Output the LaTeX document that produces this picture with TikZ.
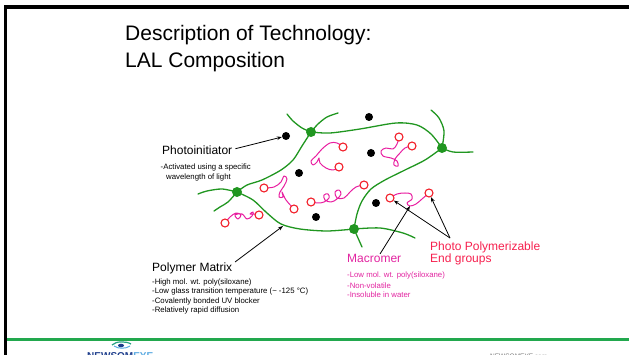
\documentclass[tikz,border=0pt]{standalone}
\usepackage{fontspec}
\setmainfont{Liberation Sans}
\usetikzlibrary{arrows.meta}
\definecolor{netgreen}{RGB}{32,150,32}
\definecolor{chainpink}{RGB}{232,30,160}
\definecolor{endred}{RGB}{242,30,40}
\definecolor{macrotext}{RGB}{226,36,160}
\definecolor{phototext}{RGB}{246,32,78}
\definecolor{rulegreen}{RGB}{34,168,78}
\definecolor{logodark}{RGB}{30,62,140}
\definecolor{logolight}{RGB}{90,170,225}
\definecolor{logoteal}{RGB}{40,160,130}
\tikzset{
  strand/.style={draw=netgreen, line width=1.3pt, line cap=round},
  crosslink/.style={circle, fill=netgreen, inner sep=0pt, minimum size=10pt},
  initiator/.style={circle, fill=black, inner sep=0pt, minimum size=8pt},
  chain/.style={draw=chainpink, line width=1pt, line cap=round, line join=round},
  endgroup/.style={circle, draw=endred, line width=1.1pt, fill=white, inner sep=0pt, minimum size=8pt},
  pointer/.style={draw=black, line width=0.8pt, -{Stealth[length=5pt,width=3.6pt]}},
  lbl/.style={anchor=base west, inner sep=0pt},
  big/.style={font=\fontsize{12}{14}\selectfont},
  small/.style={font=\fontsize{7.8}{9.5}\selectfont},
}
\begin{document}
\begin{tikzpicture}[x=1pt,y=-1pt]
\useasboundingbox (0,0) rectangle (629,355);
\clip (0,0) rectangle (629,355);

% slide frame and footer rule
\fill[black] (3.5,5) rectangle (629,9);
\fill[black] (3.5,5) rectangle (6.8,355);
\fill[rulegreen] (6.8,337.8) rectangle (629,340.8);

% title
\node[lbl, font=\fontsize{21}{25}\selectfont] (t1) at (125,41) {Description of Technology:};
\node[lbl, font=\fontsize{21}{25}\selectfont] (t2) at (125,67.5) {LAL Composition};

% polymer network: crosslink points
\coordinate (N1) at (311,132);
\coordinate (N2) at (442,148);
\coordinate (N3) at (237,192);
\coordinate (N4) at (354,229);

\draw[strand] plot[smooth] coordinates {(287,114) (293,121) (302,128) (311,132)};
\draw[strand] plot[smooth] coordinates {(311,132) (318,124) (327,117) (338,113)};
\draw[strand] plot[smooth] coordinates {(311,132) (330,133) (360,129) (396,123) (417,125) (431,134) (442,148)};
\draw[strand] plot[smooth] coordinates {(442,148) (444,131) (439,118) (431,110)};
\draw[strand] plot[smooth] coordinates {(442,148) (453,152) (473,152)};
\draw[strand] plot[smooth] coordinates {(442,148) (425,160) (405,170) (385,180) (371,189) (362,201) (357,214) (354,229)};
\draw[strand] plot[smooth] coordinates {(311,132) (302,146) (293,160) (281,170) (262,180) (247,185) (237,192)};
\draw[strand] plot[smooth] coordinates {(237,192) (222,189) (207,191) (198,194)};
\draw[strand] plot[smooth] coordinates {(237,192) (228,202) (220,207) (214,211)};
\draw[strand] plot[smooth] coordinates {(237,192) (253,200) (267,213) (281,224) (300,229) (327,231) (354,229)};
\draw[strand] plot[smooth] coordinates {(354,229) (380,228) (403,233) (415,238)};
\draw[strand] plot[smooth] coordinates {(354,229) (358,238) (362,247)};

\node[crosslink] (c1) at (N1) {};
\node[crosslink] (c2) at (N2) {};
\node[crosslink] (c3) at (N3) {};
\node[crosslink] (c4) at (N4) {};

% photoinitiator molecules
\node[initiator] (d1) at (286,136) {};
\node[initiator] (d2) at (369,117) {};
\node[initiator] (d3) at (371,153) {};
\node[initiator] (d4) at (299,173) {};
\node[initiator] (d5) at (376,203) {};
\node[initiator] (d6) at (316,217) {};

% macromer chains with photopolymerizable end groups
\draw[chain] plot[smooth, tension=0.6] coordinates {(343,147) (337,143) (330,143) (322,149) (316,156) (311,161) (313,165) (317,162) (319,158) (320,163) (326,168) (333,170) (339,167)};
\node[endgroup] (e1a) at (343,147) {};
\node[endgroup] (e1b) at (339,167) {};

\draw[chain] plot[smooth, tension=0.6] coordinates {(399,137) (397,144) (393,149) (386,148) (381,151) (383,156) (391,158) (397,161) (398,166) (394,165) (395,159) (400,153) (405,148) (412,146)};
\node[endgroup] (e2a) at (399,137) {};
\node[endgroup] (e2b) at (412,146) {};

\draw[chain] plot[smooth, tension=0.6] coordinates {(264,188) (274,187) (281,182) (284,176) (287,179) (284,186) (280,192) (279,197) (283,197) (282,192) (286,200) (294,209)};
\node[endgroup] (e3a) at (264,188) {};
\node[endgroup] (e3b) at (294,209) {};

\draw[chain] plot[smooth, tension=0.6] coordinates {(311,202) (318,203) (324,202) (329,198) (328,194) (324,195) (325,200) (331,202) (337,199) (341,194) (339,190) (335,192) (337,198) (344,198) (350,192) (356,187) (364,185)};
\node[endgroup] (e4a) at (311,202) {};
\node[endgroup] (e4b) at (364,185) {};

\draw[chain] plot[smooth, tension=0.6] coordinates {(225,223) (230,217) (236,213) (241,215) (238,219) (235,215) (242,214) (247,219) (252,216) (253,212) (250,214) (254,214) (259,215)};
\node[endgroup] (e5a) at (225,223) {};
\node[endgroup] (e5b) at (259,215) {};

\draw[chain] plot[smooth, tension=0.6] coordinates {(390,198) (397,194) (405,193) (411,194) (412,199) (407,203) (410,206) (416,204) (422,199) (429,193)};
\node[endgroup] (e6a) at (390,198) {};
\node[endgroup] (e6b) at (429,193) {};
\coordinate (m6) at (410,206);

% Photoinitiator label
\node[lbl, big] (pi) at (162,155) {Photoinitiator};
\node[lbl, small] (pi1) at (160.5,170) {-Activated using a specific};
\node[lbl, small] (pi2) at (166,180) {wavelength of light};
\draw[pointer] (pi.east) ++(3,-2) coordinate (pis) -- (d1);

% Polymer Matrix label
\node[lbl, big] (pm) at (152,271.5) {Polymer Matrix};
\node[lbl, small] (pm1) at (152,284) {-High mol. wt. poly(siloxane)};
\node[lbl, small] (pm2) at (152,293.5) {-Low glass transition temperature (\textasciitilde\ -125 °C)};
\node[lbl, small] (pm3) at (152,303) {-Covalently bonded UV blocker};
\node[lbl, small] (pm4) at (152,312.5) {-Relatively rapid diffusion};
\coordinate (pmt) at (283,226);
\coordinate (pms) at (235,262);
\draw[pointer] (pms) -- (pmt);

% Macromer label
\node[lbl, big, text=macrotext] (mc) at (347,262.5) {Macromer};
\node[lbl, small, text=macrotext] (mc1) at (347,278) {-Low mol. wt. poly(siloxane)};
\node[lbl, small, text=macrotext] (mc2) at (347,289) {-Non-volatile};
\node[lbl, small, text=macrotext] (mc3) at (347,298) {-Insoluble in water};
\coordinate (mcs) at (380,254);
\draw[pointer] (mcs) -- (m6);

% Photo Polymerizable End groups label
\node[lbl, big, text=phototext] (pp1) at (430,251) {Photo Polymerizable};
\node[lbl, big, text=phototext] (pp2) at (430,262.7) {End groups};
\coordinate (pps) at (450,238);
\draw[pointer] (pps) -- (e6a);
\draw[pointer] (pps) -- (e6b);

% footer branding
\draw[logoteal, line width=1.2pt] (112,345) .. controls (116,341) and (126,341) .. (131,344);
\draw[logolight, line width=1pt] (114,346) .. controls (118,349) and (126,349) .. (130,346);
\fill[logodark] (121,345.5) ellipse (3pt and 1.8pt);
\node[lbl, font=\bfseries\fontsize{10}{12}\selectfont] (logo) at (87,359.5) {\textcolor{logodark}{NEWSOM}\textcolor{logolight}{EYE}};
\node[lbl, font=\fontsize{6.5}{8}\selectfont, text=black!55] (web) at (490,358.5) {NEWSOMEYE\textcolor{black!30}{.com}};
\end{tikzpicture}
\end{document}
